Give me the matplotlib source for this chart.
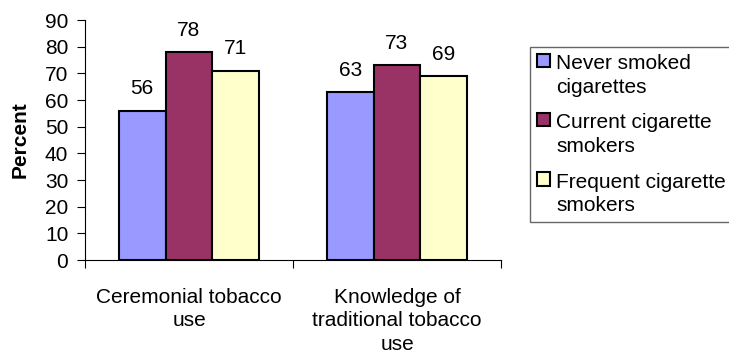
import numpy as np
import matplotlib.pyplot as plt
from matplotlib.patches import Patch, Rectangle
from matplotlib.legend_handler import HandlerPatch

plt.rcParams['font.family'] = ['Liberation Sans', 'DejaVu Sans']

# Data
categories = ["Ceremonial tobacco\nuse", "Knowledge of\ntraditional tobacco\nuse"]
series_names = ["Never smoked\ncigarettes", "Current cigarette\nsmokers", "Frequent cigarette\nsmokers"]
never_smoked = [56, 63]
current_smokers = [78, 73]
frequent_smokers = [71, 69]
colors = ["#9999FF", "#993366", "#FFFFCC"]

fig = plt.figure(figsize=(7.29, 3.56), dpi=100)
ax = fig.add_axes([85 / 729, 96 / 356, 416 / 729, 240 / 356])

x = np.arange(len(categories))
width = 0.225
all_series = [never_smoked, current_smokers, frequent_smokers]
for i, (vals, col) in enumerate(zip(all_series, colors)):
    bars = ax.bar(x + (i - 1) * width, vals, width, color=col,
                  edgecolor="black", linewidth=1.5)
    for b, v in zip(bars, vals):
        ax.annotate(str(v), (b.get_x() + b.get_width() / 2, v),
                    xytext=(0, 9), textcoords="offset points",
                    ha="center", va="bottom", fontsize=15)

ax.set_xlim(-0.5, len(categories) - 0.5)
ax.set_ylim(0, 90)
ax.set_yticks(range(0, 91, 10))
ax.tick_params(axis="y", labelsize=15, length=6, direction="out", pad=6)

# category boundary ticks, labels at centres
ax.set_xticks([-0.5, 0.5, 1.5])
ax.set_xticklabels([])
ax.set_xticks(x, minor=True)
ax.set_xticklabels(categories, minor=True, fontsize=15, linespacing=1.3)
ax.tick_params(axis="x", which="major", length=6, direction="out")
ax.tick_params(axis="x", which="minor", length=0, pad=20)

ax.spines["top"].set_visible(False)
ax.spines["right"].set_visible(False)
ax.set_ylabel("Percent", fontsize=15, fontweight="bold", labelpad=11)


# legend square sits next to the first line of each label
def top_square(legend, orig_handle, xdescent, ydescent, width, height, fontsize):
    return Rectangle((-xdescent, -ydescent + 0.72 * fontsize), width, height)


handles = [Patch(facecolor=c, edgecolor="black", linewidth=1.5) for c in colors]
leg = fig.legend(handles, series_names, loc="upper left",
                 bbox_to_anchor=(530 / 729, 1 - 47 / 356),
                 fontsize=15, frameon=True, fancybox=False, shadow=False,
                 handlelength=0.6, handleheight=0.6, handletextpad=0.3,
                 borderpad=0.35, labelspacing=0.8, borderaxespad=0,
                 handler_map={Patch: HandlerPatch(patch_func=top_square)})
leg.get_frame().set_edgecolor("#404040")
leg.get_frame().set_linewidth(1.0)
for t in leg.get_texts():
    t.set_linespacing(1.3)

fig.savefig("out.png", dpi=100)
